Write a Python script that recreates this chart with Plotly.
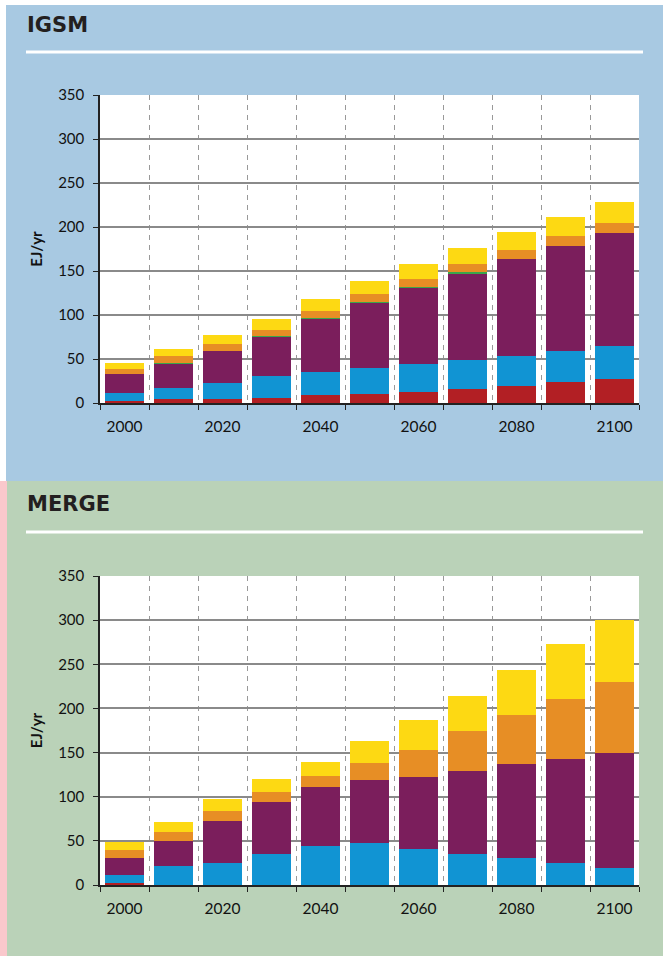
import plotly.graph_objects as go

years = [2000, 2010, 2020, 2030, 2040, 2050, 2060, 2070, 2080, 2090, 2100]
tick_years = [2000, 2020, 2040, 2060, 2080, 2100]
y_ticks = [0, 50, 100, 150, 200, 250, 300, 350]

# IGSM energy by source (EJ/yr), bottom to top
igsm_red = [2.6, 4.2, 4.9, 6.1, 9.5, 10.6, 12.9, 16.3, 19.7, 24.2, 27.6]
igsm_blue = [9.1, 13.2, 18.2, 24.9, 26.1, 29.5, 31.7, 32.9, 34.0, 35.2, 37.5]
igsm_purple = [20.8, 27.2, 36.3, 44.3, 60.1, 73.8, 86.3, 98.4, 110.1, 119.2, 128.3]
igsm_green = [0, 0.8, 0, 0.9, 1.0, 1.0, 1.0, 0.9, 0, 0, 0]
igsm_orange = [6.5, 8.3, 8.0, 7.0, 8.1, 9.2, 9.2, 9.7, 10.3, 11.4, 11.3]
igsm_yellow = [6.8, 8.0, 10.2, 12.5, 13.6, 14.8, 17.1, 18.1, 20.4, 21.5, 23.8]

# MERGE energy by source (EJ/yr)
merge_red = [2.6, 0, 0, 0, 0, 0, 0, 0, 0, 0, 0]
merge_blue = [9.1, 21.9, 25.3, 35.5, 44.5, 47.9, 41.1, 35.5, 31.0, 25.3, 19.6]
merge_purple = [19.2, 28.3, 47.5, 58.8, 66.8, 71.3, 81.5, 93.9, 106.3, 117.7, 130.2]
merge_orange = [9.1, 10.2, 11.3, 11.4, 12.4, 19.2, 30.6, 45.2, 55.5, 67.9, 80.4]
merge_yellow = [9.0, 11.3, 13.6, 14.6, 15.9, 24.9, 33.5, 39.7, 50.9, 62.3, 70.2]

RED, BLUE, PURPLE, GREEN = "#B21F24", "#1194D3", "#7B1E5C", "#3AA64A"
ORANGE, YELLOW = "#E78E25", "#FDD913"
FONT = "Lato"
W, H = 663, 956

fig = go.Figure()

igsm = [igsm_red, igsm_blue, igsm_purple, igsm_green, igsm_orange, igsm_yellow]
igsm_cols = [RED, BLUE, PURPLE, GREEN, ORANGE, YELLOW]
for vals, col in zip(igsm, igsm_cols):
    fig.add_trace(go.Bar(x=years, y=vals, width=8, marker=dict(color=col, line_width=0),
                         xaxis="x", yaxis="y", showlegend=False))

merge = [merge_red, merge_blue, merge_purple, merge_orange, merge_yellow]
merge_cols = [RED, BLUE, PURPLE, ORANGE, YELLOW]
for vals, col in zip(merge, merge_cols):
    fig.add_trace(go.Bar(x=years, y=vals, width=8, marker=dict(color=col, line_width=0),
                         xaxis="x2", yaxis="y2", showlegend=False))


def px_x(p):
    return p / W


def px_y(p):
    return 1 - p / H


# panel backgrounds
fig.add_shape(type="rect", xref="paper", yref="paper", x0=px_x(6), x1=1, y0=px_y(481), y1=px_y(5),
              fillcolor="#A8C9E2", line_width=0, layer="below")
fig.add_shape(type="rect", xref="paper", yref="paper", x0=px_x(7), x1=1, y0=0, y1=px_y(481),
              fillcolor="#BAD2B8", line_width=0, layer="below")
fig.add_shape(type="rect", xref="paper", yref="paper", x0=0, x1=px_x(7), y0=0, y1=px_y(481),
              fillcolor="#FAC8CC", line_width=0, layer="below")
# white plot areas on top of the panel colour
for xr, yr in (("x domain", "y domain"), ("x2 domain", "y2 domain")):
    fig.add_shape(type="rect", xref=xr, yref=yr, x0=0, x1=1, y0=0, y1=1,
                  fillcolor="white", line_width=0, layer="below")
# white rules under the titles
for yy in (52, 532):
    fig.add_shape(type="line", xref="paper", yref="paper", x0=px_x(26), x1=px_x(643),
                  y0=px_y(yy), y1=px_y(yy), line=dict(color="white", width=3))

for txt, yy in (("IGSM", 25), ("MERGE", 504)):
    fig.add_annotation(text=f"<b>{txt}</b>", xref="paper", yref="paper", x=px_x(25), y=px_y(yy),
                       xanchor="left", yanchor="middle", showarrow=False,
                       font=dict(family="DejaVu Sans", size=21, color="#231F20"))

xdom = [px_x(100), px_x(639)]
xaxis_style = dict(
    range=[1995, 2105], domain=xdom, tickmode="array", tickvals=tick_years, ticks="",
    ticklabelstandoff=9, automargin=False,
    showgrid=False, showline=True, linecolor="#222", linewidth=1.5, zeroline=False,
    tickfont=dict(family=FONT, size=15.5, color="#111"),
    minor=dict(tick0=2005, dtick=10, ticks="outside", ticklen=5, tickcolor="#222", tickwidth=1,
               showgrid=True, gridcolor="#999999", griddash="5px,5px", gridwidth=1.3),
)
yaxis_style = dict(
    range=[0, 350], tickmode="array", tickvals=y_ticks, ticks="outside", ticklen=5,
    ticklabelstandoff=6, automargin=False,
    tickcolor="#222", showgrid=True, gridcolor="#8A8A8A", gridwidth=1.5,
    showline=True, linecolor="#222", linewidth=1.5, zeroline=False,
    tickfont=dict(family=FONT, size=15, color="#111"),
    title=dict(text="<b>EJ/yr</b>", font=dict(family=FONT, size=15, color="#111"), standoff=12),
)

fig.update_layout(
    width=W, height=H,
    margin=dict(l=0, r=0, t=0, b=0, autoexpand=False),
    paper_bgcolor="white", plot_bgcolor="white",
    barmode="stack", bargap=0,
    xaxis=dict(**xaxis_style, anchor="y"),
    yaxis=dict(**yaxis_style, domain=[px_y(403), px_y(95)], anchor="x"),
    xaxis2=dict(**xaxis_style, anchor="y2"),
    yaxis2=dict(**yaxis_style, domain=[px_y(885), px_y(576)], anchor="x2"),
)

fig.write_html("out.html", config={"displayModeBar": False},
               post_script="document.body.style.margin='0';")
